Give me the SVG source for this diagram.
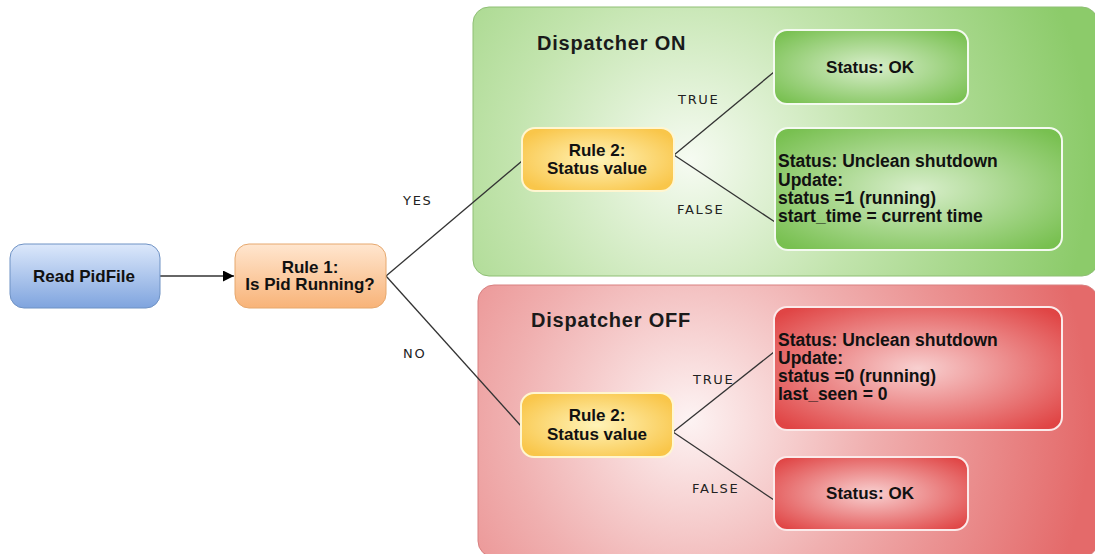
<svg xmlns="http://www.w3.org/2000/svg" width="1095" height="554" viewBox="0 0 1095 554">
<style>
.t{font-family:"Liberation Sans",Arial,sans-serif;font-weight:bold;font-size:17px;fill:#111}
.m{font-size:17.5px}
.c{text-anchor:middle}
.h{font-family:"Liberation Sans",Arial,sans-serif;font-weight:bold;font-size:20px;fill:#1a1a1a;letter-spacing:0.8px}
.l{font-family:"DejaVu Sans","Liberation Sans",sans-serif;font-size:13px;fill:#222;letter-spacing:1.7px}
.ln{stroke:#333;stroke-width:1.3;fill:none}
</style>
<defs>
<linearGradient id="gBlue" x1="0" y1="0" x2="0" y2="1"><stop offset="0" stop-color="#dce8fb"/><stop offset="1" stop-color="#7fa4de"/></linearGradient>
<linearGradient id="gOrange" x1="0" y1="0" x2="0" y2="1"><stop offset="0" stop-color="#ffe6cf"/><stop offset="1" stop-color="#f8b378"/></linearGradient>
<radialGradient id="gYellow" cx="0.5" cy="0.5" r="0.6"><stop offset="0" stop-color="#fff3b8"/><stop offset="1" stop-color="#f9c64a"/></radialGradient>
<radialGradient id="gGreenBg" gradientUnits="userSpaceOnUse" cx="690" cy="160" r="400"><stop offset="0" stop-color="#f6fbf2"/><stop offset="0.45" stop-color="#c2e4ad"/><stop offset="1" stop-color="#8ccb6a"/></radialGradient>
<radialGradient id="gRedBg" gradientUnits="userSpaceOnUse" cx="690" cy="420" r="400"><stop offset="0" stop-color="#fdf3f3"/><stop offset="0.45" stop-color="#f0b0b0"/><stop offset="1" stop-color="#e46a6a"/></radialGradient>
<radialGradient id="gGreen" cx="0.5" cy="0.5" r="0.65"><stop offset="0" stop-color="#d8eecb"/><stop offset="1" stop-color="#78c050"/></radialGradient>
<radialGradient id="gRed" cx="0.5" cy="0.5" r="0.65"><stop offset="0" stop-color="#f8d0d0"/><stop offset="1" stop-color="#e04545"/></radialGradient>
<marker id="arr" viewBox="0 0 10 10" refX="10" refY="5" markerWidth="11" markerHeight="11" markerUnits="userSpaceOnUse" orient="auto"><path d="M0,0 L10,5 L0,10 z" fill="#000"/></marker>
</defs>

<g id="dispatcher-on">
<rect x="473" y="7" width="625" height="269" rx="16" fill="url(#gGreenBg)" stroke="#8fbf75" stroke-width="1"/>
<text class="h" x="537" y="50">Dispatcher ON</text>
</g>
<g id="dispatcher-off">
<rect x="478" y="285" width="620" height="272" rx="16" fill="url(#gRedBg)" stroke="#d88080" stroke-width="1"/>
<text class="h" x="531" y="327">Dispatcher OFF</text>
</g>

<g id="connectors">
<line class="ln" x1="160" y1="276" x2="234" y2="276" stroke="#000" marker-end="url(#arr)"/>
<line class="ln" x1="386" y1="276" x2="522" y2="161"/>
<line class="ln" x1="386" y1="276" x2="521" y2="426"/>
<line class="ln" x1="674" y1="155" x2="774" y2="72"/>
<line class="ln" x1="674" y1="155" x2="775" y2="222"/>
<line class="ln" x1="673" y1="432" x2="774" y2="352"/>
<line class="ln" x1="673" y1="432" x2="774" y2="500"/>
<text class="l" x="403" y="205">YES</text>
<text class="l" x="403" y="358">NO</text>
<text class="l" x="678" y="104">TRUE</text>
<text class="l" x="677" y="214">FALSE</text>
<text class="l" x="693" y="384">TRUE</text>
<text class="l" x="692" y="493">FALSE</text>
</g>

<g id="read-pidfile">
<rect x="10" y="244" width="150" height="64" rx="14" fill="url(#gBlue)" stroke="#6f92c4" stroke-width="1"/>
<text class="t c" x="84" y="282">Read PidFile</text>
</g>
<g id="rule1">
<rect x="235" y="244" width="151" height="64" rx="14" fill="url(#gOrange)" stroke="#e6a86e" stroke-width="1"/>
<text class="t c" x="310" y="273">Rule 1:</text>
<text class="t c" x="310" y="290">Is Pid Running?</text>
</g>
<g id="rule2-on">
<rect x="522" y="128" width="152" height="63" rx="13" fill="url(#gYellow)" stroke="#fff6d0" stroke-width="2"/>
<text class="t c" x="597" y="156">Rule 2:</text>
<text class="t c" x="597" y="174">Status value</text>
</g>
<g id="on-ok">
<rect x="774" y="30" width="194" height="74" rx="13" fill="url(#gGreen)" stroke="#f4faf0" stroke-width="2"/>
<text class="t c" x="870" y="73">Status: OK</text>
</g>
<g id="on-unclean">
<rect x="775" y="128" width="287" height="122" rx="13" fill="url(#gGreen)" stroke="#f4faf0" stroke-width="2"/>
<text class="t m" x="778" y="167">Status: Unclean shutdown</text>
<text class="t m" x="778" y="186">Update:</text>
<text class="t m" x="778" y="204">status =1 (running)</text>
<text class="t m" x="778" y="222">start_time = current time</text>
</g>
<g id="rule2-off">
<rect x="521" y="393" width="152" height="64" rx="13" fill="url(#gYellow)" stroke="#fff6d0" stroke-width="2"/>
<text class="t c" x="597" y="421">Rule 2:</text>
<text class="t c" x="597" y="440">Status value</text>
</g>
<g id="off-unclean">
<rect x="774" y="307" width="288" height="123" rx="13" fill="url(#gRed)" stroke="#fbeaea" stroke-width="2"/>
<text class="t m" x="778" y="346">Status: Unclean shutdown</text>
<text class="t m" x="778" y="364">Update:</text>
<text class="t m" x="778" y="382">status =0 (running)</text>
<text class="t m" x="778" y="400">last_seen = 0</text>
</g>
<g id="off-ok">
<rect x="774" y="457" width="194" height="73" rx="13" fill="url(#gRed)" stroke="#fbeaea" stroke-width="2"/>
<text class="t c" x="870" y="499">Status: OK</text>
</g>
</svg>
